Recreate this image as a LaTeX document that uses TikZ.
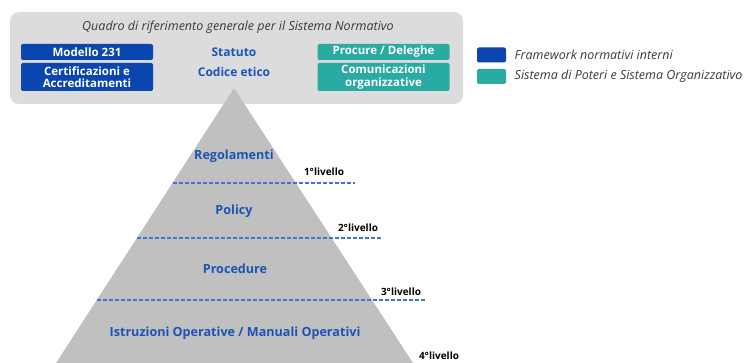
\documentclass[tikz,border=0pt]{standalone}
\usepackage{fontspec}
\setmainfont{Open Sans}
\usepackage{xcolor}
\definecolor{fwblue}{HTML}{0B46AE}
\definecolor{poteri}{HTML}{2AABA2}
\definecolor{quadrogrey}{HTML}{DCDCDC}
\definecolor{pyrgrey}{HTML}{C0C0C0}
\definecolor{leveltext}{HTML}{1D52B6}
\definecolor{dashblue}{HTML}{3F75D2}
\definecolor{notetext}{HTML}{3A3A3A}

\begin{document}
\begin{tikzpicture}[x=1pt,y=-1pt,
    fw box/.style={fill=fwblue,text=white,font=\fontsize{11.5}{12.5}\selectfont\bfseries,rounded corners=2pt,minimum width=132pt,inner sep=0pt,align=center},
    poteri box/.style={fw box,fill=poteri},
    level name/.style={text=leveltext,font=\fontsize{12.6}{14}\selectfont\bfseries},
    level line/.style={draw=dashblue,dash pattern=on 4pt off 2pt,line width=1.1pt},
    level tag/.style={font=\fontsize{10}{11}\selectfont\bfseries,text=black,inner sep=0pt},
    note/.style={text=notetext,font=\fontsize{12.5}{14}\selectfont\itshape}]
    \useasboundingbox (0,0) rectangle (747,363);

    % cornice generale
    \node[fill=quadrogrey,rounded corners=9pt,minimum width=453pt,minimum height=92pt] (quadro) at (236.5,58) {};
    \node[note] (titolo) at (238,27) {Quadro di riferimento generale per il Sistema Normativo};

    % piramide dei livelli
    \coordinate (apice) at (234,88);
    \coordinate (baseL) at (56,363);
    \coordinate (baseR) at (413,363);
    \fill[pyrgrey] (apice) -- (baseR) -- (baseL) -- cycle;

    \node[fw box,minimum height=16pt] (modello) at (87,52) {Modello 231};
    \node[fw box,minimum height=28pt] (certificazioni) at (87,77) {Certificazioni e\\Accreditamenti};
    \node[poteri box,minimum height=16pt] (procure) at (383.5,52) {Procure / Deleghe};
    \node[poteri box,minimum height=28pt] (comunicazioni) at (383.5,77) {Comunicazioni\\organizzative};
    \node[level name,font=\fontsize{12}{13}\selectfont\bfseries] (statuto) at (234,52) {Statuto};
    \node[level name,font=\fontsize{12}{13}\selectfont\bfseries] (codice) at (234,72) {Codice etico};

    \node[level name] (regolamenti) at (234,156) {Regolamenti};
    \node[level name] (policy) at (234,211) {Policy};
    \node[level name] (procedure) at (235,269) {Procedure};
    \node[level name] (istruzioni) at (235,333) {Istruzioni Operative / Manuali Operativi};

    \coordinate (l1a) at (173,183); \coordinate (l1b) at (355,183);
    \coordinate (l2a) at (137,238); \coordinate (l2b) at (383,238);
    \coordinate (l3a) at (97,300);  \coordinate (l3b) at (425,300);
    \draw[level line] (l1a) -- (l1b);
    \draw[level line] (l2a) -- (l2b);
    \draw[level line] (l3a) -- (l3b);

    \node[level tag] (liv1) at (324,172) {1°livello};
    \node[level tag] (liv2) at (358,228) {2°livello};
    \node[level tag] (liv3) at (401,292) {3°livello};
    \node[level tag] (liv4) at (439,356) {4°livello};

    % legenda
    \node[fill=fwblue,rounded corners=2pt,minimum width=29pt,minimum height=15pt,inner sep=0pt] (legfw) at (491.5,55) {};
    \node[fill=poteri,rounded corners=2pt,minimum width=29pt,minimum height=15pt,inner sep=0pt] (legpot) at (491.5,76.5) {};
    \node[note,anchor=west] (legfwtxt) at ([xshift=5pt]legfw.east) {Framework normativi interni};
    \node[note,anchor=west] (legpottxt) at ([xshift=5pt]legpot.east) {Sistema di Poteri e Sistema Organizzativo};
\end{tikzpicture}
\end{document}
